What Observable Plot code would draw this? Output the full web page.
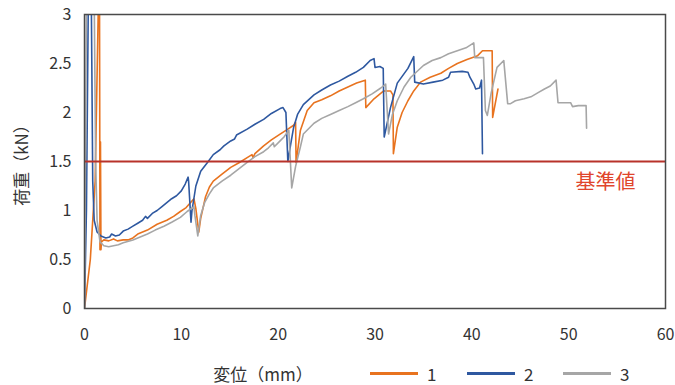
<!DOCTYPE html>
<html><head><meta charset="utf-8">
<script src="https://cdn.jsdelivr.net/npm/d3@7"></script>
<script src="https://cdn.jsdelivr.net/npm/@observablehq/plot@0.6"></script>
<style>
body{margin:0;background:#fff;font-family:"Noto Sans CJK JP","Noto Sans",sans-serif;}
#wrap{position:relative;width:675px;height:385px;}
#chart{position:absolute;left:0;top:0;}
.lbl{position:absolute;color:#333;white-space:nowrap;line-height:1.15;}
#ylabel{font-size:17px;transform:translate(-50%,-50%) rotate(-90deg);left:21px;top:161px;}
#xlabel{font-size:17px;transform:translate(-50%,-50%);left:263px;top:374px;}
.legline{position:absolute;height:3px;}
.legtxt{position:absolute;font-size:17px;color:#333;transform:translateY(-50%);line-height:1.15;}
</style></head><body>
<div id="wrap"><div id="chart"></div>
<div id="ylabel" class="lbl">荷重（kN）</div>
<div id="xlabel" class="lbl">変位（mm）</div>
<div id="legend"></div>
</div>
<script>
const seriesNames = ["1", "2", "3"];
const seriesColors = ["#E8731F", "#2E58A0", "#A6A6A6"];
const xTicks = [0, 10, 20, 30, 40, 50, 60];
const yTicks = [0, 0.5, 1, 1.5, 2, 2.5, 3];
const refValue = 1.5;
const refLabel = "基準値";
const xTitle = "変位（mm）";
const yTitle = "荷重（kN）";

// series 1 (orange)
const s1x = [0, 0.6, 1.1, 1.45, 1.55, 1.6, 1.65, 1.7, 1.75, 2.0, 2.5, 3.0, 3.4, 4.0, 4.5, 5.0, 5.5, 6.5, 7.5, 8.5, 9.2, 9.9, 10.5, 11.3, 11.5, 11.8, 12.0, 12.5, 12.9, 13.3, 14.2, 15.1, 16.0, 16.8, 17.3, 17.4, 17.6, 18.5, 19.3, 20.2, 21.0, 21.6, 21.8, 21.85, 22.3, 23.0, 23.7, 24.5, 25.4, 26.3, 27.2, 28.1, 29.0, 29.05, 29.9, 30.9, 31.6, 31.85, 31.9, 32.3, 32.8, 33.4, 34.0, 34.7, 35.7, 36.8, 37.6, 38.5, 39.5, 40.6, 41.1, 42.1, 42.15, 42.7];
const s1y = [0, 0.5, 1.3, 3.2, 3.2, 0.6, 1.7, 0.6, 0.68, 0.70, 0.69, 0.71, 0.69, 0.70, 0.70, 0.72, 0.76, 0.80, 0.86, 0.90, 0.94, 0.99, 1.03, 1.12, 1.02, 0.78, 0.92, 1.14, 1.24, 1.30, 1.37, 1.44, 1.49, 1.54, 1.57, 1.54, 1.58, 1.66, 1.72, 1.78, 1.83, 1.87, 1.90, 1.49, 1.82, 2.02, 2.10, 2.13, 2.17, 2.22, 2.26, 2.30, 2.33, 2.05, 2.14, 2.22, 2.22, 2.18, 1.58, 1.85, 2.00, 2.12, 2.22, 2.31, 2.36, 2.40, 2.45, 2.50, 2.54, 2.58, 2.63, 2.63, 1.95, 2.24];

// series 2 (blue)
const s2x = [0, 0.2, 0.4, 0.7, 0.85, 1.0, 1.3, 1.7, 2.2, 2.6, 2.8, 3.2, 3.6, 4.0, 4.5, 5.0, 5.5, 6.0, 6.3, 6.5, 7.0, 7.5, 8.0, 8.5, 9.0, 9.5, 10.0, 10.4, 10.7, 10.75, 11.0, 11.1, 11.5, 12.0, 12.7, 13.3, 14.0, 14.4, 15.1, 15.5, 15.7, 16.8, 17.6, 18.5, 19.3, 20.2, 20.5, 20.8, 21.0, 21.3, 21.6, 22.0, 22.6, 23.7, 24.5, 25.4, 26.3, 27.2, 28.0, 28.8, 29.5, 29.9, 30.0, 30.5, 30.85, 30.95, 31.6, 32.3, 33.4, 34.0, 34.1, 35.0, 36.0, 37.0, 37.6, 37.8, 39.0, 39.6, 39.8, 40.2, 40.4, 40.8, 41.0, 41.1];
const s2y = [0, 1.0, 3.2, 3.2, 1.3, 0.9, 0.78, 0.74, 0.72, 0.73, 0.76, 0.74, 0.75, 0.79, 0.81, 0.84, 0.87, 0.90, 0.94, 0.92, 0.97, 1.00, 1.04, 1.08, 1.12, 1.15, 1.20, 1.27, 1.34, 1.30, 0.88, 1.00, 1.25, 1.40, 1.49, 1.57, 1.62, 1.66, 1.71, 1.73, 1.77, 1.83, 1.88, 1.93, 1.99, 2.04, 2.05, 2.00, 1.50, 1.68, 1.85, 1.98, 2.08, 2.18, 2.23, 2.28, 2.32, 2.37, 2.41, 2.46, 2.53, 2.55, 2.46, 2.47, 2.45, 1.75, 2.05, 2.30, 2.45, 2.57, 2.31, 2.29, 2.31, 2.33, 2.36, 2.41, 2.42, 2.41, 2.36, 2.29, 2.24, 2.25, 2.33, 1.58];

// series 3 (gray)
const s3x = [0, 0.1, 0.2, 1.0, 1.15, 1.3, 1.6, 2.0, 2.5, 3.0, 3.5, 4.0, 5.0, 6.0, 6.5, 7.3, 8.2, 9.0, 9.9, 10.6, 11.3, 11.4, 11.7, 12.0, 12.4, 12.9, 13.3, 14.2, 15.1, 16.0, 16.8, 17.6, 18.5, 19.0, 19.5, 19.6, 20.2, 20.6, 21.1, 21.4, 21.8, 22.3, 22.6, 23.7, 24.5, 25.4, 26.3, 27.2, 28.0, 28.8, 29.7, 30.6, 31.1, 31.4, 31.8, 32.3, 33.0, 33.7, 35.0, 35.9, 36.8, 37.6, 38.5, 39.4, 40.2, 40.3, 41.2, 41.4, 41.6, 42.0, 42.6, 43.3, 43.7, 44.0, 44.5, 45.4, 46.1, 46.8, 47.5, 48.1, 48.7, 48.9, 49.5, 50.2, 50.4, 51.0, 51.8, 51.85];
const s3y = [0, 1.5, 3.2, 3.2, 1.5, 0.9, 0.68, 0.64, 0.63, 0.64, 0.65, 0.67, 0.70, 0.74, 0.76, 0.80, 0.84, 0.88, 0.93, 0.99, 1.04, 0.95, 0.74, 0.95, 1.08, 1.17, 1.23, 1.30, 1.36, 1.43, 1.49, 1.55, 1.60, 1.64, 1.69, 1.65, 1.71, 1.75, 1.82, 1.23, 1.45, 1.65, 1.78, 1.89, 1.94, 1.98, 2.02, 2.06, 2.10, 2.14, 2.19, 2.25, 2.29, 1.78, 1.98, 2.12, 2.26, 2.36, 2.48, 2.53, 2.56, 2.60, 2.63, 2.66, 2.71, 2.56, 2.56, 2.02, 1.97, 2.20, 2.46, 2.53, 2.09, 2.09, 2.12, 2.14, 2.16, 2.20, 2.24, 2.27, 2.33, 2.10, 2.10, 2.10, 2.06, 2.07, 2.07, 1.84];

const rows = [];
[[s1x, s1y], [s2x, s2y], [s3x, s3y]].forEach(([xs, ys], i) => {
  xs.forEach((x, j) => rows.push({s: seriesNames[i], x, y: ys[j]}));
});

const font = '"Noto Sans CJK JP","Noto Sans",sans-serif';
const plot = Plot.plot({
  width: 675, height: 345,
  marginLeft: 84, marginRight: 10, marginTop: 14, marginBottom: 37,
  style: {fontFamily: font, fontSize: "16px", color: "#333", background: "transparent", overflow: "visible"},
  x: {domain: [0, 60], ticks: xTicks, tickSize: 0, tickPadding: 20, label: null, tickFormat: d => String(d)},
  y: {domain: [0, 3], ticks: yTicks, tickSize: 0, tickPadding: 13, label: null, tickFormat: d => String(d)},
  color: {domain: seriesNames, range: seriesColors},
  marks: [
    Plot.line(rows, {x: "x", y: "y", z: "s", stroke: "s", strokeWidth: 1.6, clip: true, strokeLinejoin: "round"}),
    Plot.ruleY([refValue], {stroke: "#B8322A", strokeWidth: 2}),
    Plot.text([refLabel], {x: 53.8, y: 1.28, text: d => d, fill: "#E0452C", fontSize: 20, fontFamily: font}),
    Plot.frame({stroke: "#4a4a4a", strokeWidth: 1.5})
  ]
});
document.getElementById("chart").appendChild(plot);
document.getElementById("xlabel").textContent = xTitle;
document.getElementById("ylabel").textContent = yTitle;

const leg = document.getElementById("legend");
const legX = [370, 467, 563];
seriesNames.forEach((n, i) => {
  const l = document.createElement("div");
  l.className = "legline";
  l.style.left = legX[i] + "px"; l.style.top = "372px"; l.style.width = "48px";
  l.style.background = seriesColors[i];
  leg.appendChild(l);
  const t = document.createElement("div");
  t.className = "legtxt";
  t.style.left = (legX[i] + 57) + "px"; t.style.top = "374px";
  t.textContent = n;
  leg.appendChild(t);
});
</script>
</body></html>
